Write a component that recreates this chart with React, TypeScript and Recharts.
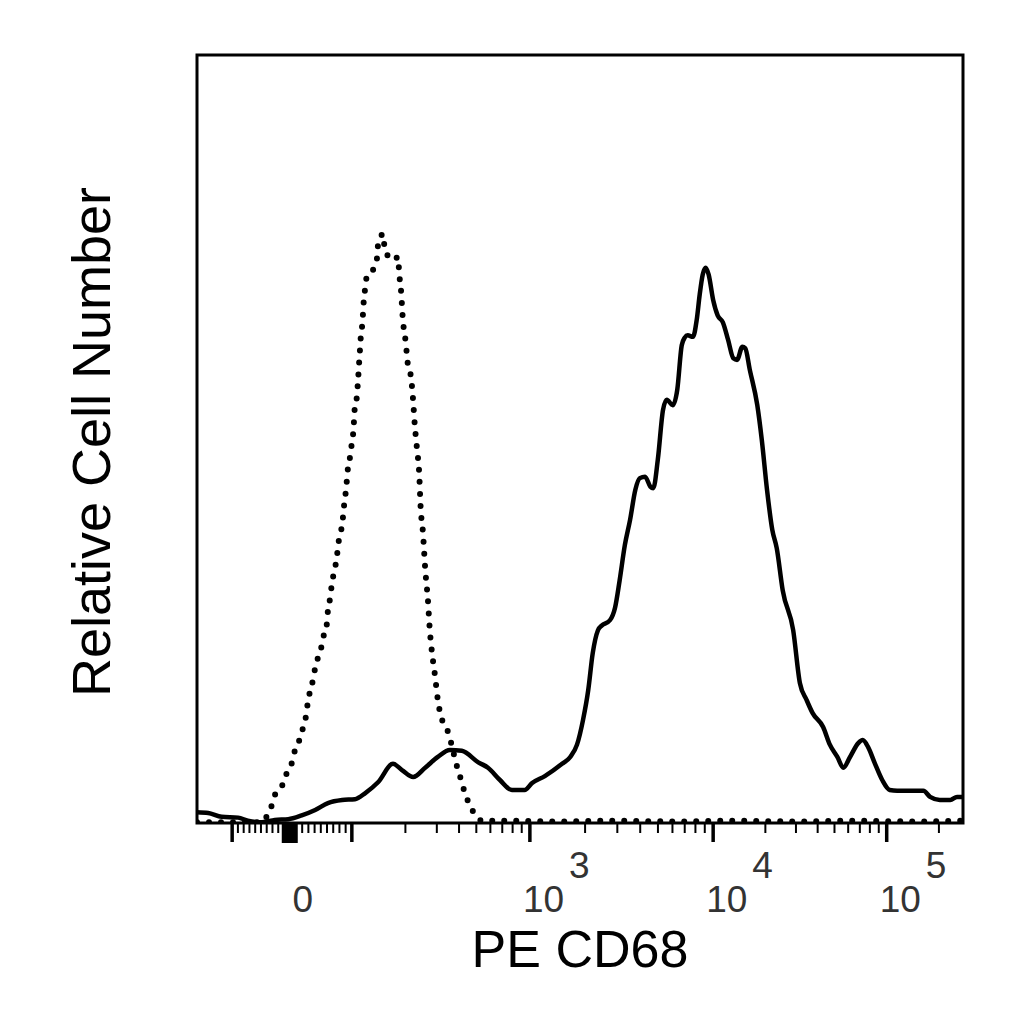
import { LineChart, Line, XAxis, YAxis, ReferenceArea } from 'recharts'

// x values are display channels (0-1024) on a biexponential PE axis,
// y values are relative cell counts (0-100 = full plot height)
const isotypeChannel = [
  0, 40, 87, 94, 100, 104, 114, 120, 127, 131, 138, 142, 146, 148, 151, 155, 158, 162,
  167, 170, 174, 175, 178, 180, 183, 186, 188, 190, 194, 197, 199, 202, 205, 207, 209,
  210, 211, 214, 215, 216, 217, 218, 219, 221, 222, 223, 225, 227, 237, 241, 242, 249,
  251, 263, 269, 270, 273, 275, 279, 282, 286, 289, 291, 294, 297, 299, 302, 305, 309,
  311, 314, 318, 322, 329, 337, 341, 348, 354, 358, 365, 372, 381, 420, 480, 560, 640,
  720, 800, 880, 960, 1024,
]
const isotypeCount = [
  0.1, 0.1, 0.1, 1.0, 2.3, 3.6, 4.9, 6.5, 7.9, 9.5, 11.1, 12.5, 14.1, 15.6, 17.1, 18.6,
  20.2, 21.6, 23.2, 24.7, 26.2, 27.7, 29.3, 30.9, 32.6, 34.0, 35.5, 37.1, 38.8, 41.7,
  43.2, 46.4, 47.9, 49.5, 51.0, 52.6, 54.2, 55.7, 57.3, 58.7, 60.4, 61.8, 63.4, 65.0,
  66.5, 68.1, 69.7, 71.2, 72.3, 73.8, 75.3, 76.7, 74.6, 73.3, 73.7, 72.0, 69.0, 65.8,
  62.6, 59.6, 58.1, 54.9, 52.0, 48.8, 45.6, 41.0, 37.9, 33.2, 28.6, 25.4, 22.3, 19.3,
  16.0, 13.0, 11.5, 9.9, 7.2, 5.3, 3.9, 2.3, 1.0, 0.3, 0.3, 0.2, 0.3, 0.2, 0.3, 0.2,
  0.3, 0.2, 0.3,
]

const cd68Channel = [
  0, 15, 33, 55, 68, 87, 104, 122, 140, 158, 175, 194, 211, 225, 242, 262, 274, 289,
  305, 322, 338, 354, 376, 389, 405, 421, 438, 448, 465, 488, 499, 508, 516, 523, 529,
  536, 541, 552, 559, 565, 572, 579, 586, 592, 599, 606, 610, 616, 623, 628, 636, 642,
  648, 652, 656, 663, 668, 672, 676, 680, 684, 690, 696, 703, 710, 717, 722, 729, 733,
  739, 749, 755, 762, 769, 775, 783, 797, 806, 815, 823, 837, 846, 856, 864, 873, 884,
  890, 897, 906, 916, 926, 936, 971, 980, 993, 1007, 1016, 1024,
]
const cd68Count = [
  1.4, 1.3, 0.8, 0.7, 0.3, 0.1, 0.4, 0.5, 1.0, 1.7, 2.6, 3.0, 3.1, 3.9, 5.3, 7.7, 6.9,
  6.0, 7.2, 8.6, 9.5, 9.4, 7.9, 7.2, 5.6, 4.3, 4.3, 5.2, 6.1, 7.7, 8.6, 10.2, 13.4,
  17.3, 22.1, 25.1, 25.7, 26.4, 28.1, 31.6, 36.2, 39.5, 43.4, 44.9, 45.1, 43.8, 43.6,
  47.3, 53.8, 55.1, 54.4, 56.4, 62.2, 63.2, 63.5, 63.3, 65.5, 68.8, 71.4, 72.3, 71.4,
  68.1, 66.1, 65.2, 62.9, 60.5, 60.3, 62.0, 61.8, 59.0, 54.4, 49.9, 43.4, 38.2, 35.8,
  30.3, 25.1, 18.2, 16.0, 14.3, 12.5, 10.2, 8.6, 7.2, 8.6, 10.4, 10.8, 9.9, 7.8, 5.6,
  4.3, 4.2, 4.2, 3.4, 3.0, 3.0, 3.4, 3.4,
]

// axis geometry: channel of -100, 0, 100 and of the decades 10^2..10^5
const linearChannels = [47, 124, 207]
const decadeChannels = [207, 445, 690, 922]
const tickLabels = [
  { ch: 124, base: '0', exp: '' },
  { ch: 445, base: '10', exp: '3' },
  { ch: 690, base: '10', exp: '4' },
  { ch: 922, base: '10', exp: '5' },
]

const isotypeData = isotypeChannel.map((ch, i) => ({ ch, count: isotypeCount[i] }))
const cd68Data = cd68Channel.map((ch, i) => ({ ch, count: cd68Count[i] }))

type TickDef = { ch: number; kind: 'major' | 'minor' | 'zero'; base?: string; exp?: string }

function buildTicks(): TickDef[] {
  const out: TickDef[] = []
  const [neg, zero, pos] = linearChannels
  for (let v = -100; v <= 100; v += 10) {
    const ch = v < 0 ? zero + (v / 100) * (zero - neg) : zero + (v / 100) * (pos - zero)
    let kind: TickDef['kind'] = 'minor'
    if (v === 0) kind = 'zero'
    else if (Math.abs(v) === 100) kind = 'major'
    out.push({ ch: Math.round(ch * 10) / 10, kind })
  }
  decadeChannels.forEach((start, i) => {
    const width =
      i < decadeChannels.length - 1
        ? decadeChannels[i + 1] - start
        : start - decadeChannels[i - 1]
    if (i > 0) out.push({ ch: start, kind: 'major' })
    for (let m = 2; m <= 9; m++) {
      const ch = Math.round((start + Math.log10(m) * width) * 10) / 10
      if (ch < 1024) out.push({ ch, kind: 'minor' })
    }
  })
  tickLabels.forEach((l) => {
    const t = out.find((d) => d.ch === l.ch)
    if (t) {
      t.base = l.base
      t.exp = l.exp
    }
  })
  return out
}

const tickDefs = buildTicks()
const tickByValue = new Map(tickDefs.map((t) => [t.ch, t]))

const W = 1024
const H = 1024
const X_AXIS_H = 100
const Y_AXIS_W = 100
// margins leave room for the axis boxes; plot frame is 197..963 x 55..823
const margin = { top: 55, right: 61, bottom: 201 - X_AXIS_H, left: 197 - Y_AXIS_W }
const plotLeft = 197
const plotW = 766
const plotTop = 55
const plotH = 768
const font = '"Liberation Sans", Arial, sans-serif'

function AxisTick(props: any) {
  const { x, payload } = props
  const y = plotTop + plotH
  const def = tickByValue.get(payload.value)
  if (!def) return null
  const label =
    def.base === '0' ? (
      <text x={x + 13} y={y + 89} textAnchor="middle" fontSize={37} fill="#333" fontFamily={font}>
        0
      </text>
    ) : def.base ? (
      <text x={x - 7} y={y + 89} textAnchor="start" fontSize={37} fill="#333" fontFamily={font}>
        {def.base}
        <tspan dx={5} dy={-34}>
          {def.exp}
        </tspan>
      </text>
    ) : null
  if (def.kind === 'zero') {
    return (
      <g>
        <rect x={x - 8} y={y} width={16} height={20} fill="#000" />
        {label}
      </g>
    )
  }
  const len = def.kind === 'major' ? 19 : 10
  return (
    <g>
      <line
        x1={x}
        x2={x}
        y1={y}
        y2={y + len}
        stroke="#000"
        strokeWidth={def.kind === 'major' ? 3.5 : 2}
      />
      {label}
    </g>
  )
}

function XTitle() {
  return (
    <text
      x={plotLeft + plotW / 2}
      y={plotTop + plotH + 144}
      textAnchor="middle"
      fontSize={52}
      fill="#000"
      fontFamily={font}
    >
      PE CD68
    </text>
  )
}

function YTitle() {
  const cx = plotLeft - 87
  const cy = plotTop + plotH / 2 + 3
  return (
    <text
      x={cx}
      y={cy}
      transform={`rotate(-90 ${cx} ${cy})`}
      textAnchor="middle"
      fontSize={54}
      fill="#000"
      fontFamily={font}
    >
      Relative Cell Number
    </text>
  )
}

export default function App() {
  return (
    <div
      style={{ position: 'absolute', left: 0, top: 0, width: W, height: H, background: '#fff' }}
    >
      <LineChart width={W} height={H} margin={margin}>
        <XAxis
          type="number"
          dataKey="ch"
          domain={[0, 1024]}
          allowDataOverflow
          ticks={tickDefs.map((t) => t.ch)}
          interval={0}
          tick={<AxisTick />}
          tickLine={false}
          axisLine={false}
          tickSize={0}
          tickMargin={0}
          height={X_AXIS_H}
          label={<XTitle />}
        />
        <YAxis
          type="number"
          domain={[0, 100]}
          allowDataOverflow
          width={Y_AXIS_W}
          tick={false}
          tickLine={false}
          axisLine={false}
          label={<YTitle />}
        />
        <Line
          data={isotypeData}
          dataKey="count"
          type="monotone"
          stroke="#000"
          strokeWidth={6}
          strokeDasharray="0 12"
          strokeLinecap="round"
          dot={false}
          isAnimationActive={false}
        />
        <Line
          data={cd68Data}
          dataKey="count"
          type="monotone"
          stroke="#000"
          strokeWidth={4.5}
          dot={false}
          isAnimationActive={false}
        />
        <ReferenceArea
          x1={0}
          x2={1024}
          y1={0}
          y2={100}
          fill="none"
          stroke="#000"
          strokeWidth={3}
          ifOverflow="visible"
        />
      </LineChart>
    </div>
  )
}
